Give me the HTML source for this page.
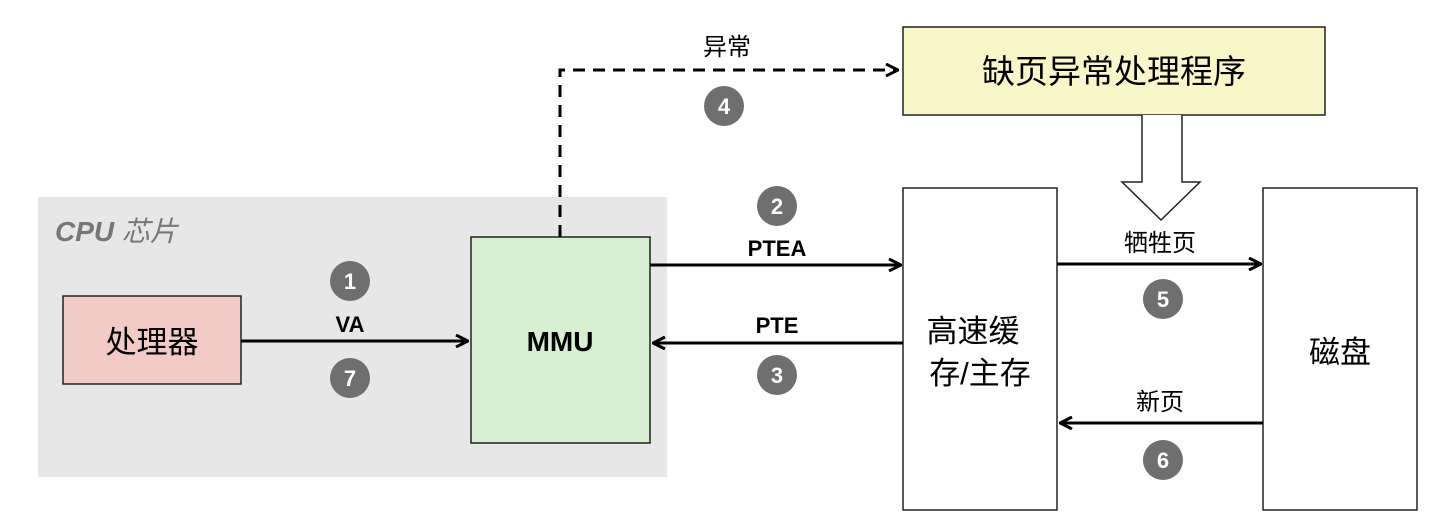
<!DOCTYPE html>
<html><head><meta charset="utf-8"><style>
html,body{margin:0;padding:0;background:#fff;}
svg{display:block;}
text{font-family:"Liberation Sans","Noto Sans CJK SC",sans-serif;}
</style></head><body>
<svg width="1431" height="525" viewBox="0 0 1431 525" xmlns="http://www.w3.org/2000/svg">
<defs>
<marker id="ah" markerWidth="14" markerHeight="14" refX="13" refY="7" orient="auto" markerUnits="userSpaceOnUse">
<path d="M1,1 L13,7 L1,13" fill="none" stroke="#000" stroke-width="3"/>
</marker>
</defs>
<rect x="38" y="197" width="629" height="280" fill="#e7e7e7"/>
<text x="55" y="241" font-size="28" font-style="italic" font-weight="bold" fill="#777">CPU <tspan font-weight="normal">芯片</tspan></text>
<rect x="63" y="296" width="178" height="88" fill="#f2cbc6" stroke="#222" stroke-width="1.5"/>
<text x="152" y="353" font-size="31" text-anchor="middle">处理器</text>
<rect x="471" y="237" width="179" height="206" fill="#d5efd0" stroke="#222" stroke-width="1.5"/>
<text x="560" y="351" font-size="28" font-weight="bold" text-anchor="middle">MMU</text>
<rect x="903" y="27" width="422" height="88" fill="#f9f6c9" stroke="#222" stroke-width="1.5"/>
<text x="1114" y="83" font-size="33" text-anchor="middle">缺页异常处理程序</text>
<rect x="903" y="188" width="154" height="322" fill="#fff" stroke="#222" stroke-width="1.5"/>
<text x="973" y="342" font-size="31" text-anchor="middle">高速缓</text>
<text x="980" y="384" font-size="31" text-anchor="middle">存/主存</text>
<rect x="1263" y="188" width="154" height="322" fill="#fff" stroke="#222" stroke-width="1.5"/>
<text x="1340" y="363" font-size="31" text-anchor="middle">磁盘</text>
<g stroke="#000" stroke-width="3" fill="none">
<line x1="241" y1="341" x2="468" y2="341" marker-end="url(#ah)"/>
<line x1="650" y1="265" x2="901" y2="265" marker-end="url(#ah)"/>
<line x1="903" y1="343" x2="653" y2="343" marker-end="url(#ah)"/>
<line x1="1057" y1="264" x2="1261" y2="264" marker-end="url(#ah)"/>
<line x1="1263" y1="423" x2="1060" y2="423" marker-end="url(#ah)"/>
<polyline points="560,237 560,70 898,70" stroke-dasharray="12,8" marker-end="url(#ah)"/>
</g>
<path d="M1142,115 L1142,182 L1122,182 L1161,220 L1200,182 L1182,182 L1182,115" fill="#fff" stroke="#222" stroke-width="1.5"/>
<g font-size="22" font-weight="bold" text-anchor="middle">
<text x="350" y="332">VA</text>
<text x="777" y="256">PTEA</text>
<text x="777" y="333">PTE</text>
</g>
<g font-size="24" text-anchor="middle">
<text x="727" y="55">异常</text>
<text x="1160" y="251">牺牲页</text>
<text x="1160" y="410">新页</text>
</g>
<g fill="#6f6f6f">
<circle cx="350" cy="281" r="20"/><circle cx="350" cy="378" r="20"/>
<circle cx="777" cy="206" r="20"/><circle cx="777" cy="375" r="20"/>
<circle cx="724" cy="106" r="20"/><circle cx="1163" cy="299" r="20"/>
<circle cx="1163" cy="460" r="20"/>
</g>
<g fill="#fff" font-size="22" font-weight="bold" text-anchor="middle">
<text x="350" y="289">1</text><text x="350" y="386">7</text>
<text x="777" y="214">2</text><text x="777" y="383">3</text>
<text x="724" y="114">4</text><text x="1163" y="307">5</text>
<text x="1163" y="468">6</text>
</g>
</svg>
</body></html>
